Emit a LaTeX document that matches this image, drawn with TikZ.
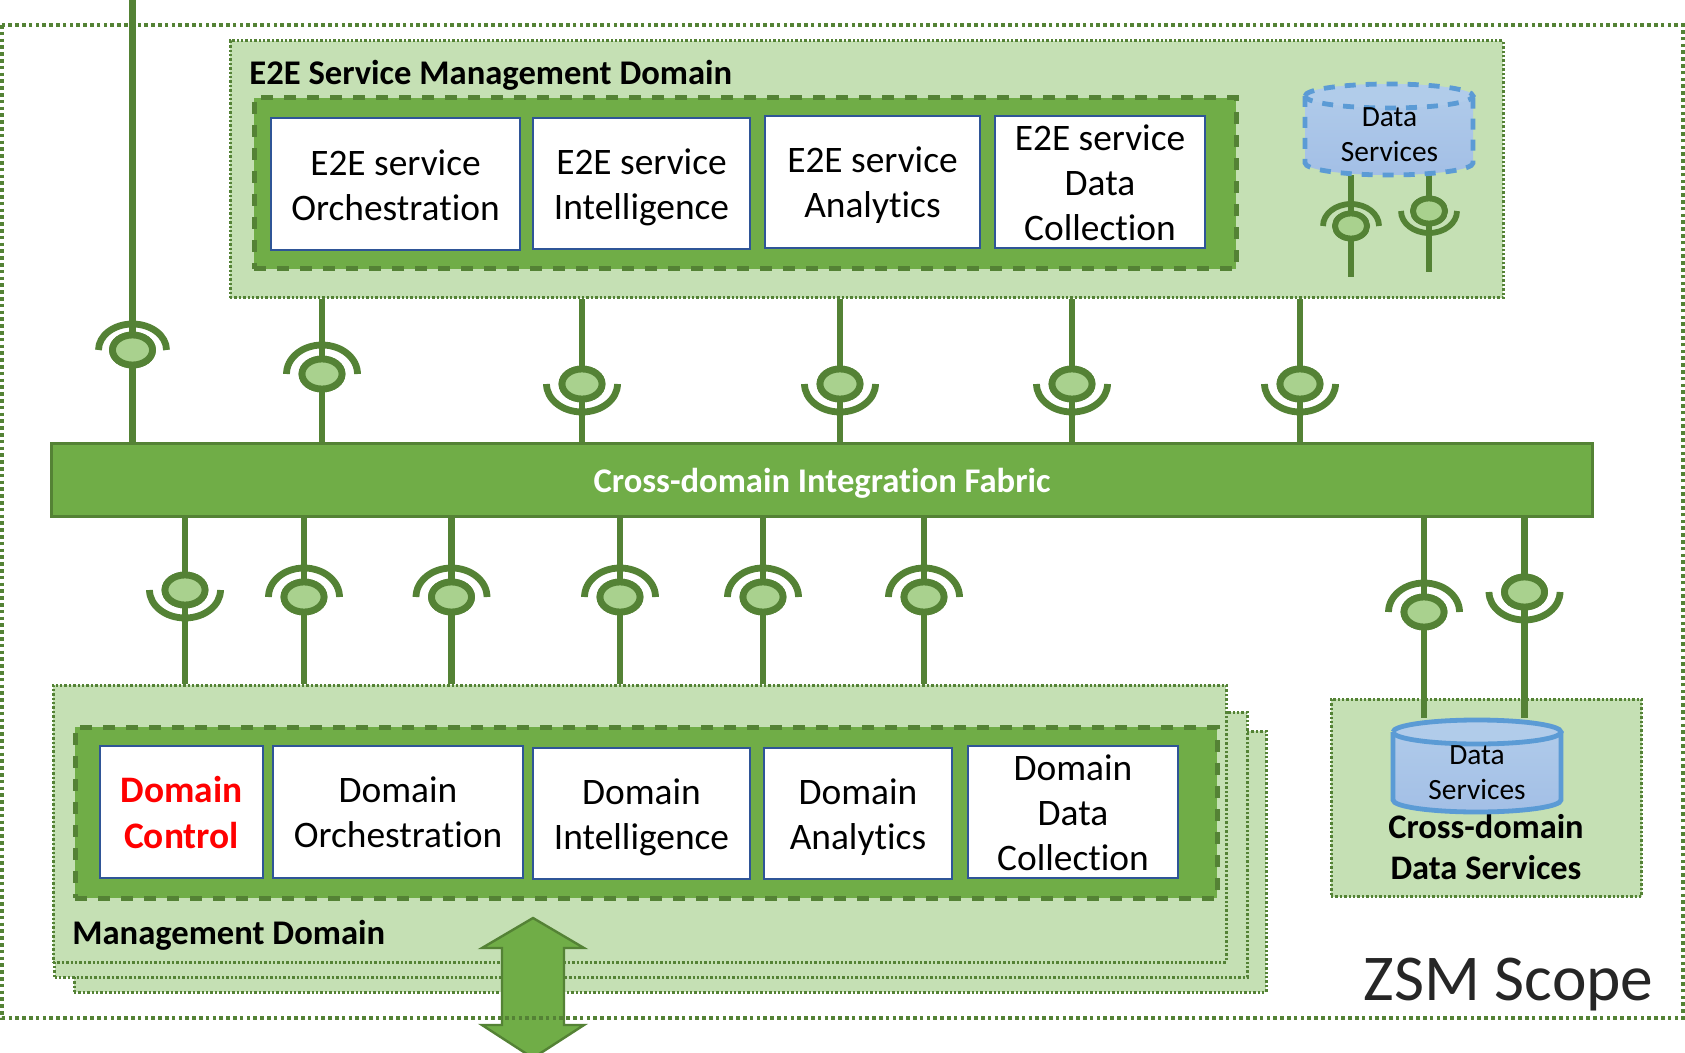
\documentclass[tikz,border=0pt]{standalone}
\usepackage{fontspec}
\setmainfont{Carlito}[Ligatures=NoCommon]
\usetikzlibrary{shapes.geometric,calc}
\definecolor{gdark}{HTML}{548235}
\definecolor{gmid}{HTML}{70AD47}
\definecolor{glight}{HTML}{C5E0B4}
\definecolor{gcirc}{HTML}{A9D18E}
\definecolor{bline}{HTML}{2F5597}
\definecolor{cline}{HTML}{5B9BD5}
\definecolor{ctop}{HTML}{B1CCEA}
\definecolor{cbot}{HTML}{A3BFE6}
\tikzset{
  x=0.5pt,y=-0.5pt,
  domainbox/.style={draw=gdark,fill=glight,line width=1.5pt,dash pattern=on 1.2pt off 1pt},
  inner/.style={draw=gdark,fill=gmid,line width=2.5pt,dash pattern=on 6pt off 5.5pt},
  func/.style={draw=bline,fill=white,line width=1.3pt},
  functext/.style={inner sep=0pt,align=center,font=\fontsize{18.7}{22.6}\selectfont},
  fabricbox/.style={draw=gdark,fill=gmid,line width=1.5pt},
  title/.style={anchor=west,inner sep=0pt,font=\fontsize{17.3}{20}\selectfont\bfseries},
  conn/.style={draw=gdark,line width=3.4pt},
  symb/.style={ellipse,draw=gdark,fill=gcirc,line width=3.4pt,inner sep=0pt,minimum width=20pt,minimum height=15pt},
  symbs/.style={ellipse,draw=gdark,fill=gcirc,line width=2.9pt,inner sep=0pt,minimum width=16pt,minimum height=12.5pt},
  scopeline/.style={draw=gdark,line width=2.2pt,dash pattern=on 1.8pt off 1.6pt},
  dsnode/.style={inner sep=0pt,align=center,font=\fontsize{14.7}{17.5}\selectfont},
}
\newcommand{\rbox}[7]{\node[#2,inner sep=0pt,minimum width={(#5-#3)*0.5pt},minimum height={(#6-#4)*0.5pt}] (#1) at ({(#3+#5)/2},{(#4+#6)/2}) {#7};}
% function box with its text: name, x1, y1, x2, y2, text drop in px, text
\newcommand{\tbox}[7]{\rbox{#1}{func}{#2}{#3}{#4}{#5}{}
  \node[functext] (#1t) at ({(#2+#4)/2},{(#3+#5)/2+#6}) {#7};}
\newcommand{\arcup}[1]{\draw[conn] (#1.center) ++(17.75pt,0pt) arc[start angle=0,end angle=180,x radius=17.75pt,y radius=14.5pt];}
\newcommand{\arcdn}[1]{\draw[conn] (#1.center) ++(-17.75pt,0pt) arc[start angle=180,end angle=360,x radius=17.75pt,y radius=14pt];}
\newcommand{\arcups}[1]{\draw[conn,line width=2.9pt] (#1.center) ++(14pt,0pt) arc[start angle=0,end angle=180,x radius=14pt,y radius=11pt];}
\newcommand{\arcdns}[1]{\draw[conn,line width=2.9pt] (#1.center) ++(-14pt,0pt) arc[start angle=180,end angle=360,x radius=14pt,y radius=11pt];}
\newcommand{\cyl}[6]{%
  \path[#6,draw=none,top color=ctop,bottom color=cbot] (#1,#2) arc[start angle=180,end angle=0,x radius={(#3-#1)*0.25pt},y radius={#5*0.5pt}] -- (#3,#4) arc[start angle=0,end angle=-180,x radius={(#3-#1)*0.25pt},y radius={#5*0.5pt}] -- cycle;
  \draw[#6,fill=ctop] (#1,#2) arc[start angle=180,end angle=-180,x radius={(#3-#1)*0.25pt},y radius={#5*0.5pt}];
  \draw[#6] (#1,#2) -- (#1,#4) arc[start angle=180,end angle=360,x radius={(#3-#1)*0.25pt},y radius={#5*0.5pt}] -- (#3,#2);
}
\begin{document}
\begin{tikzpicture}
\useasboundingbox[fill=white] (0,0) rectangle (1685,1053);

% E2E domain
\rbox{e2e}{domainbox}{230}{41}{1503}{298}{}
\node[title] (e2etitle) at (249,75) {E2E Service Management Domain};
\rbox{e2ein}{inner}{254}{98}{1236}{269}{}
\tbox{eo}{271}{118}{520}{250}{1}{E2E service\\Orchestration}
\tbox{ei}{533}{118}{750}{249}{3.5}{E2E service\\Intelligence}
\tbox{ea}{765}{116}{980}{248}{3.5}{E2E service\\Analytics}
\tbox{ed}{995}{116}{1205}{248}{1}{E2E service\\Data\\Collection}

% E2E data services
\node[symbs] (is1) at (1351,226) {};
\node[symbs] (is2) at (1429,211) {};
\node[inner sep=0pt,minimum width=85pt,minimum height=46pt] (ds1) at (1389.5,129) {};
\coordinate (ie1) at (1351,277);
\coordinate (ie2) at (1429,272);
\draw[conn,line width=2.9pt] (ds1.south -| is1) -- (ie1);
\draw[conn,line width=2.9pt] (ds1.south -| is2) -- (ie2);
\node[symbs] at (is1) {};
\node[symbs] at (is2) {};
\arcups{is1}
\arcdns{is2}
\cyl{1305}{96}{1473}{163}{12}{draw=cline,line width=2.4pt,dash pattern=on 5.5pt off 5pt}
\node[dsnode] (ds1t) at (1389.5,135) {Data\\Services};

% Management domain stack
\rbox{md3}{domainbox}{74}{731}{1266}{992}{}
\rbox{md2}{domainbox}{54.5}{712}{1247}{977}{}
\rbox{md1}{domainbox}{53}{685}{1226}{962}{}
\rbox{mdin}{inner}{75}{727}{1217}{898}{}
\tbox{dc}{100}{746}{263}{878}{0.5}{\color{red}\bfseries Domain\\\color{red}\bfseries Control}
\tbox{do}{273}{746}{523}{878}{0.5}{Domain\\Orchestration}
\tbox{di}{533}{748}{750}{879}{3.5}{Domain\\Intelligence}
\tbox{da}{764}{748}{952}{879}{3.5}{Domain\\Analytics}
\tbox{dd}{968}{746}{1178}{878}{0.5}{Domain\\Data\\Collection}
\node[title] (mdtitle) at (72,935) {Management Domain};

% Double arrow
\draw[draw=gdark,fill=gmid,line width=1.2pt] (533,918) -- (584,948) -- (564,948) -- (564,1025) -- (584,1025) -- (533,1058) -- (482,1025) -- (502,1025) -- (502,948) -- (482,948) -- cycle;

% Outer scope
\draw[scopeline] (2,25) rectangle (1683,1018);
\node[anchor=center,inner sep=0pt,text=black!85,font=\fontsize{32.7}{38}\selectfont] (zsm) at (1508.5,985) {ZSM Scope};

% Fabric
\rbox{fabric}{fabricbox}{51}{443}{1592}{516}{}
\node[text=white,font=\fontsize{17.3}{20}\selectfont\bfseries,inner sep=0pt] (fabrict) at (822,483) {Cross-domain Integration Fabric};

% Cross domain data services box
\rbox{cd}{domainbox}{1331}{699}{1641.5}{896.5}{}
\node[title,anchor=center,align=center,font=\fontsize{17.2}{20.2}\selectfont\bfseries] (cdt) at (1486,847) {Cross-domain\\Data Services};
\node[inner sep=0pt,minimum width=85pt,minimum height=47pt] (ds2) at (1477.5,765) {};

% Top-row symbols
\coordinate (top) at (132,0);
\foreach \n/\x/\y in {t1/132.5/350,t2/322/374,t3/582/384,t4/840/384,t5/1072/384,t6/1300/384}{
  \node[symb] (\n) at (\x,\y) {};
}
\draw[conn] (top -| t1) -- (fabric.north -| t1);
\foreach \n in {t2,t3,t4,t5,t6}{ \draw[conn] (e2e.south -| \n) -- (fabric.north -| \n); }
\foreach \n/\x/\y in {t1/132.5/350,t2/322/374,t3/582/384,t4/840/384,t5/1072/384,t6/1300/384}{
  \node[symb] at (\x,\y) {};
}
\draw[conn] (t1.center) ++(17pt,0pt) arc[start angle=0,end angle=180,x radius=17pt,y radius=13pt];
\arcup{t2}\arcdn{t3}\arcdn{t4}\arcdn{t5}\arcdn{t6}

% Bottom-row symbols
\foreach \n/\x/\y in {b1/185/590,b2/304/597,b3/451.5/597,b4/620/597,b5/763/597,b6/924/597,r1/1424/612,r2/1524.5/592}{
  \node[symb] (\n) at (\x,\y) {};
}
\foreach \n in {b1,b2,b3,b4,b5,b6}{ \draw[conn] (fabric.south -| \n) -- (md1.north -| \n); }
\foreach \n in {r1,r2}{ \draw[conn] (fabric.south -| \n) -- (ds2.north -| \n); }
\foreach \n/\x/\y in {b1/185/590,b2/304/597,b3/451.5/597,b4/620/597,b5/763/597,b6/924/597,r1/1424/612,r2/1524.5/592}{
  \node[symb] at (\x,\y) {};
}
\arcdn{b1}\arcup{b2}\arcup{b3}\arcup{b4}\arcup{b5}\arcup{b6}\arcup{r1}\arcdn{r2}

% Cross-domain cylinder
\cyl{1393}{732}{1561}{800}{12}{draw=cline,line width=2.4pt}
\node[dsnode] (ds2t) at (1477,773) {Data\\Services};
\end{tikzpicture}
\end{document}
